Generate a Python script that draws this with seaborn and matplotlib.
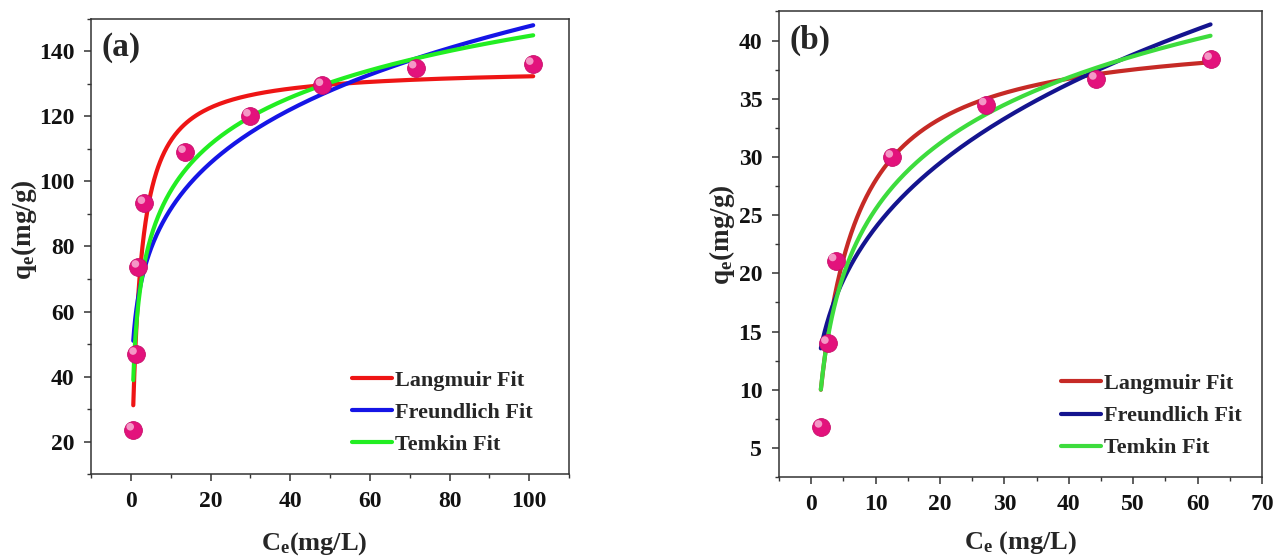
import numpy as np
import pandas as pd
import matplotlib
matplotlib.use("Agg")
import matplotlib.pyplot as plt
import matplotlib.transforms as mtransforms
from matplotlib.ticker import MultipleLocator
import seaborn as sns

# Experimental equilibrium data, panel (a)
ce_a = [0.6, 1.3, 1.9, 3.4, 13.6, 29.9, 48.1, 71.5, 100.9]
qe_a = [23.6, 46.9, 73.7, 93.3, 109.0, 120.2, 129.6, 135.0, 136.1]

# Experimental equilibrium data, panel (b)
ce_b = [1.6, 2.6, 3.8, 12.6, 27.1, 44.2, 62.1]
qe_b = [6.8, 14.0, 21.1, 30.0, 34.5, 36.7, 38.4]

# Isotherm fit parameters, panel (a)
lang_qm_a, lang_k_a = 135.0, 0.50
freu_kf_a, freu_ninv_a = 56.7, 0.208
temk_b_a, temk_a_a = 20.7, 10.9
fit_range_a = (0.6, 101.0)

# Isotherm fit parameters, panel (b)
lang_qm_b, lang_k_b = 41.0, 0.215
freu_kf_b, freu_ninv_b = 12.0, 0.300
temk_b_b, temk_a_b = 8.17, 2.27
fit_range_b = (1.5, 62.0)

fit_names = ["Langmuir Fit", "Freundlich Fit", "Temkin Fit"]


def isotherm_curves(c, qm, kl, kf, ninv, bt, at):
    return {
        "Langmuir Fit": qm * kl * c / (1 + kl * c),
        "Freundlich Fit": kf * c ** ninv,
        "Temkin Fit": bt * np.log(at * c),
    }


def fit_frame(rng, *params):
    c = np.geomspace(rng[0], rng[1], 300)
    curves = isotherm_curves(c, *params)
    return pd.concat(
        [pd.DataFrame({"Ce": c, "qe": curves[n], "model": n}) for n in fit_names],
        ignore_index=True,
    )


sns.set_theme(style="ticks")
plt.rcParams.update({
    "font.family": ["Liberation Serif", "DejaVu Serif"],
    "font.weight": "bold",
    "axes.labelweight": "bold",
    "mathtext.fontset": "custom",
    "mathtext.rm": "Liberation Serif:bold",
    "mathtext.bf": "Liberation Serif:bold",
    "mathtext.it": "Liberation Serif:bold",
    "axes.edgecolor": "#333333",
    "axes.linewidth": 1.1,
    "xtick.color": "#333333",
    "ytick.color": "#333333",
    "xtick.labelcolor": "#111111",
    "ytick.labelcolor": "#111111",
})

fig = plt.figure(figsize=(12.77, 5.58), dpi=100)
ax_a = fig.add_axes([0.0713, 0.1505, 0.3743, 0.8155])
ax_b = fig.add_axes([0.6100, 0.1452, 0.3783, 0.8342])

palette_a = {"Langmuir Fit": "#ee1515", "Freundlich Fit": "#1515e6", "Temkin Fit": "#22ee22"}
palette_b = {"Langmuir Fit": "#c62a26", "Freundlich Fit": "#14148f", "Temkin Fit": "#3ddc3d"}

panels = [
    dict(ax=ax_a, ce=ce_a, qe=qe_a, rng=fit_range_a,
         params=(lang_qm_a, lang_k_a, freu_kf_a, freu_ninv_a, temk_b_a, temk_a_a),
         pal=palette_a, xlim=(-10, 110), ylim=(10, 150), xmaj=20, ymaj=20,
         tag="(a)", xlabel=r"$\mathbf{C_e}$(mg/L)", ylabel=r"$\mathbf{q_e}$(mg/g)",
         xl=(0.467, -0.152), yl=(-0.140, 0.536), leg=(0.546, 0.135)),
    dict(ax=ax_b, ce=ce_b, qe=qe_b, rng=fit_range_b,
         params=(lang_qm_b, lang_k_b, freu_kf_b, freu_ninv_b, temk_b_b, temk_a_b),
         pal=palette_b, xlim=(-5, 70), ylim=(2.5, 42.5), xmaj=10, ymaj=5,
         tag="(b)", xlabel=r"$\mathbf{C_e}$ (mg/L)", ylabel=r"$\mathbf{q_e}$(mg/g)",
         xl=(0.5, -0.142), yl=(-0.117, 0.52), leg=(0.584, 0.131)),
]

for p in panels:
    ax = p["ax"]
    df = fit_frame(p["rng"], *p["params"])
    sns.lineplot(data=df, x="Ce", y="qe", hue="model", hue_order=fit_names,
                 palette=p["pal"], linewidth=3.0, ax=ax, sort=False,
                 estimator=None, zorder=2)

    pts = pd.DataFrame({"Ce": p["ce"], "qe": p["qe"]})
    # sphere-like markers: solid body plus an offset highlight
    sns.scatterplot(data=pts, x="Ce", y="qe", s=165, color="#e3127c",
                    edgecolor="#c70f6a", linewidth=0.6, ax=ax, zorder=4,
                    legend=False)
    hl = mtransforms.offset_copy(ax.transData, fig=fig, x=-2.2, y=2.2, units="points")
    ax.scatter(p["ce"], p["qe"], s=30, color="#f7a6cf", edgecolor="none",
               transform=hl, zorder=5, alpha=0.9)

    ax.set_xlim(*p["xlim"])
    ax.set_ylim(*p["ylim"])
    ax.xaxis.set_major_locator(MultipleLocator(p["xmaj"]))
    ax.xaxis.set_minor_locator(MultipleLocator(p["xmaj"] / 2))
    ax.yaxis.set_major_locator(MultipleLocator(p["ymaj"]))
    ax.yaxis.set_minor_locator(MultipleLocator(p["ymaj"] / 2))
    ax.tick_params(which="major", direction="out", length=5, width=1.1, pad=7,
                   labelsize=17, top=False, right=False)
    ax.tick_params(which="minor", direction="out", length=3, width=1.0,
                   top=False, right=False)
    for lab in ax.get_xticklabels() + ax.get_yticklabels():
        lab.set_fontweight("bold")
    for s in ax.spines.values():
        s.set_visible(True)

    ax.set_xlabel(p["xlabel"], fontsize=19, fontweight="bold")
    ax.set_ylabel(p["ylabel"], fontsize=19.5, fontweight="bold")
    ax.xaxis.set_label_coords(*p["xl"])
    ax.yaxis.set_label_coords(*p["yl"])
    ax.xaxis.label.set_va("center")
    ax.yaxis.label.set_va("center")

    ax.text(0.022, 0.937, p["tag"], transform=ax.transAxes, fontsize=24,
            fontweight="bold", va="center", ha="left")

    handles, labels = ax.get_legend_handles_labels()
    leg = ax.legend(handles, labels, loc="center left", bbox_to_anchor=p["leg"],
                    frameon=False, handlelength=1.8,
                    handletextpad=0.15, labelspacing=0.52, borderpad=0,
                    borderaxespad=0, prop={"weight": "bold", "size": 16})
    for line in leg.get_lines():
        line.set_linewidth(3.0)

fig.savefig("out.png", dpi=100, facecolor="white")
